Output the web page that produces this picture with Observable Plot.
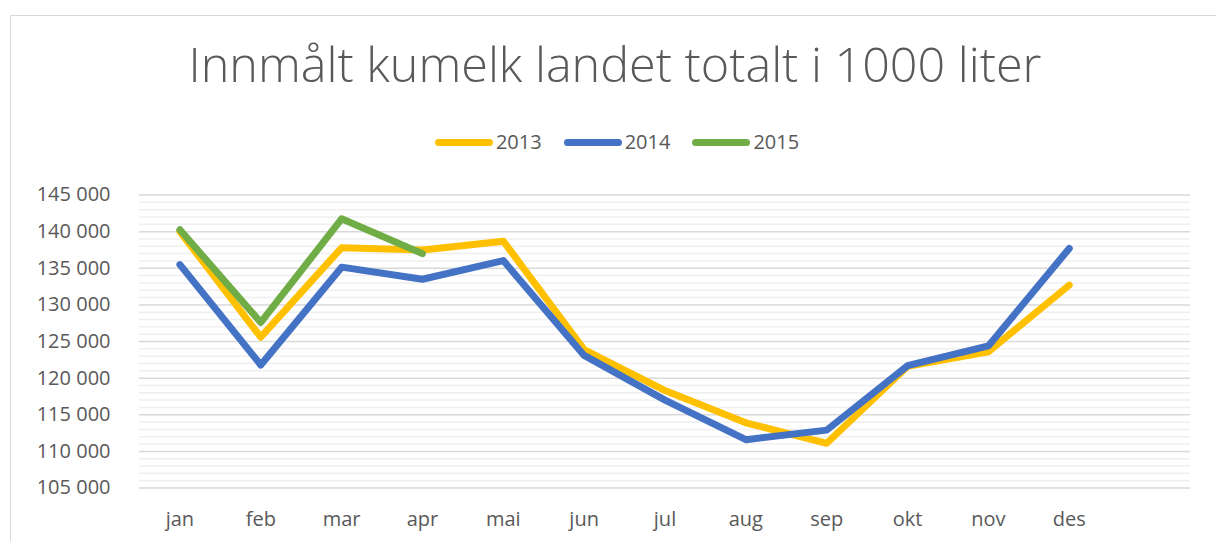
<!DOCTYPE html>
<html>
<head>
<meta charset="utf-8">
<script src="https://cdn.jsdelivr.net/npm/d3@7"></script>
<script src="https://cdn.jsdelivr.net/npm/@observablehq/plot@0.6"></script>
<style>
  html, body { margin: 0; padding: 0; background: #fff; width: 1216px; height: 541px; overflow: hidden; position: relative; font-family: "Open Sans", sans-serif; }
  #frame { position: absolute; left: 10px; top: 15px; width: 1220px; height: 560px; border: 1.5px solid #d9d9d9; box-sizing: border-box; }
  #title { position: absolute; left: 0; width: 1230px; top: 34px; text-align: center; font-size: 48.5px; font-weight: 300; color: #595959; white-space: nowrap; line-height: 1.2; }
  #legend { position: absolute; left: 0; width: 1234px; top: 128px; display: flex; justify-content: center; gap: 22px; font-size: 20px; color: #595959; line-height: 28px; }
  .item { display: flex; align-items: center; }
  .sw { width: 58px; height: 7px; border-radius: 4px; margin-right: 3px; }
  #chart { position: absolute; left: 0; top: 170px; }
</style>
</head>
<body>
<div id="frame"></div>
<div id="title">Innmålt kumelk landet totalt i 1000 liter</div>
<div id="legend"></div>
<div id="chart"></div>
<script>
const months = ["jan","feb","mar","apr","mai","jun","jul","aug","sep","okt","nov","des"];
const seriesNames = ["2013","2014","2015"];
const colors = ["#FFC000","#4472C4","#70AD47"];
const v2013 = [140000,125600,137800,137500,138700,123900,118300,113900,111100,121600,123600,132700];
const v2014 = [135500,121800,135150,133500,136050,123100,117000,111600,112900,121700,124400,137700];
const v2015 = [140250,127600,141750,137000];
const yTicks = [105000,110000,115000,120000,125000,130000,135000,140000,145000];

const allValues = [v2013, v2014, v2015];
const data = [];
allValues.forEach((arr, s) => arr.forEach((v, i) => data.push({series: seriesNames[s], month: months[i], value: v})));

const minorTicks = d3.range(105000, 145001, 1000).filter(t => t % 5000 !== 0);
const fmt = d3.formatLocale({decimal: ",", thousands: " ", grouping: [3], currency: ["", ""]}).format(",d");

const legend = document.getElementById("legend");
seriesNames.forEach((n, i) => {
  const it = document.createElement("div");
  it.className = "item";
  it.innerHTML = `<span class="sw" style="background:${colors[i]}"></span><span>${n}</span>`;
  legend.appendChild(it);
});

const chart = Plot.plot({
  width: 1216,
  height: 371,
  marginTop: 24.5,
  marginBottom: 53.5,
  marginLeft: 139,
  marginRight: 26,
  style: {background: "transparent", fontFamily: "Open Sans, sans-serif", fontSize: "20px", color: "#595959"},
  x: {type: "point", domain: [...months, ""], padding: 0.5, round: false, label: null},
  y: {domain: [105000, 145000], label: null},
  color: {domain: seriesNames, range: colors},
  marks: [
    Plot.ruleY(minorTicks, {stroke: "#efefef", strokeWidth: 1.5}),
    Plot.ruleY(yTicks, {stroke: "#d9d9d9", strokeWidth: 1.5}),
    Plot.axisY({ticks: yTicks, tickFormat: fmt, tickSize: 0, tickPadding: 29, fill: "#595959", label: null}),
    Plot.axisX({ticks: months, tickSize: 0, tickPadding: 24, fill: "#595959", label: null}),
    Plot.line(data, {x: "month", y: "value", z: "series", stroke: "series", strokeWidth: 7, strokeLinecap: "round", strokeLinejoin: "round", strokeOpacity: 1})
  ]
});
document.getElementById("chart").appendChild(chart);
</script>
</body>
</html>
